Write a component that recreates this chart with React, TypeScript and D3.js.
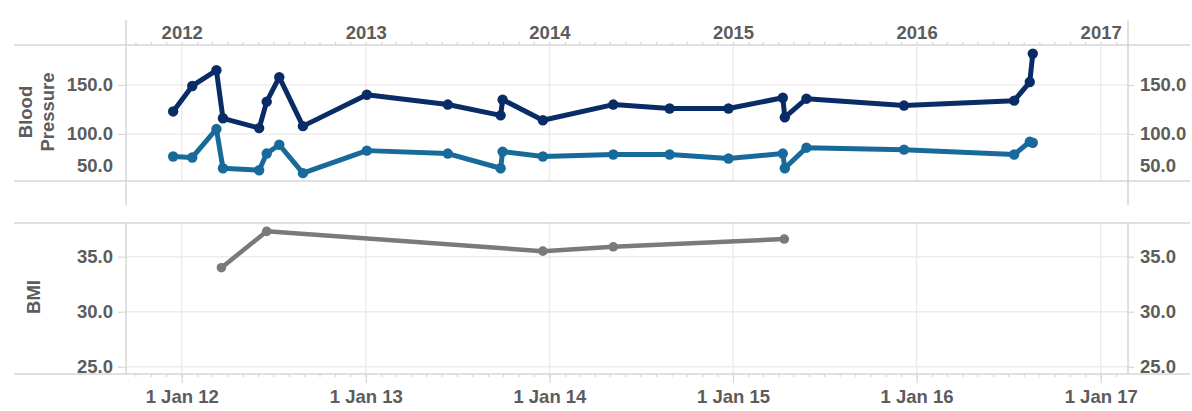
import React, { useEffect, useRef } from "react";
import * as d3 from "d3";

// visit dates shared by both blood pressure series
const visitDates = [
  "2011-12-15", "2012-01-22", "2012-03-10", "2012-03-23", "2012-06-03", "2012-06-18",
  "2012-07-13", "2012-08-29", "2013-01-03", "2013-06-13", "2013-09-26", "2013-09-30",
  "2013-12-19", "2014-05-08", "2014-08-28", "2014-12-23", "2015-04-10", "2015-04-14",
  "2015-05-27", "2015-12-07", "2016-07-13", "2016-08-13", "2016-08-19"
];
const systolic = [123, 149, 165, 116, 106, 133, 158, 108, 140, 130, 119, 135, 114, 130, 126, 126, 137, 117, 136, 129, 134, 153, 182];
const diastolic = [77, 76, 105, 65, 63, 80, 89, 60, 83, 80, 65, 82, 77, 79, 79, 75, 80, 65, 86, 84, 79, 92, 91];

const bmiDates = ["2012-03-20", "2012-06-18", "2013-12-19", "2014-05-08", "2015-04-13"];
const bmiValues = [34.0, 37.3, 35.5, 35.9, 36.6];

const bpTicks = [100, 150];
const bpEdgeTick = 50;
const bmiTicks = [25, 30, 35];

const W = 1192;
const H = 411;

export default function App() {
  const ref = useRef<SVGSVGElement | null>(null);

  useEffect(() => {
    const svg = d3.select(ref.current);
    svg.selectAll("*").remove();

    const parse = d3.utcParse("%Y-%m-%d");
    const left = 126;
    const right = 1128;
    const bp = { top: 45, bottom: 181 };
    const bm = { top: 223, bottom: 374 };

    // year lines sit at 181.7 (2012) and 1100.7 (2017)
    const anchor = d3.scaleUtc()
      .domain([new Date(Date.UTC(2012, 0, 1)), new Date(Date.UTC(2017, 0, 1))])
      .range([181.7, 1100.7]);
    const x = d3.scaleUtc().domain([anchor.invert(left), anchor.invert(right)]).range([left, right]);

    const yBP = d3.scaleLinear().domain([52, 190.8]).range([bp.bottom, bp.top]);
    const yBMI = d3.scaleLinear().domain([24.34, 38.06]).range([bm.bottom, bm.top]);

    const font = "'Liberation Sans', Arial, sans-serif";
    const textColor = "#5c5c5c";
    const gridColor = "#f0eaec";
    const ruleColor = "#d6d6d6";

    const years = d3.utcYear.range(new Date(Date.UTC(2012, 0, 1)), new Date(Date.UTC(2017, 0, 2)));
    const months = d3.utcMonth.range(x.domain()[0], x.domain()[1]);

    // gridlines
    const grid = svg.append("g");
    [bp, bm].forEach(p => {
      grid.selectAll(null)
        .data(years)
        .enter()
        .append("line")
        .attr("x1", d => x(d)).attr("x2", d => x(d))
        .attr("y1", p.top).attr("y2", p.bottom)
        .attr("stroke", gridColor).attr("stroke-width", 1.5);
    });
    grid.selectAll(null)
      .data(bpTicks)
      .enter()
      .append("line")
      .attr("x1", left).attr("x2", right)
      .attr("y1", d => yBP(d)).attr("y2", d => yBP(d))
      .attr("stroke", gridColor).attr("stroke-width", 1.5);
    grid.selectAll(null)
      .data(bmiTicks)
      .enter()
      .append("line")
      .attr("x1", left).attr("x2", right)
      .attr("y1", d => yBMI(d)).attr("y2", d => yBMI(d))
      .attr("stroke", gridColor).attr("stroke-width", 1.5);

    // panel rules
    const rules = svg.append("g").attr("stroke", ruleColor).attr("stroke-width", 1.5);
    [bp.top, bp.bottom, bm.top, bm.bottom].forEach(y => {
      rules.append("line").attr("x1", 14).attr("x2", 1190).attr("y1", y).attr("y2", y);
    });
    [left, right].forEach(xx => {
      rules.append("line").attr("x1", xx).attr("x2", xx).attr("y1", 20).attr("y2", 205);
      rules.append("line").attr("x1", xx).attr("x2", xx).attr("y1", bm.top).attr("y2", bm.bottom);
    });

    const styleAxis = (g: any) => {
      g.select(".domain").remove();
      g.selectAll(".tick line").attr("stroke", ruleColor).attr("stroke-width", 1.2);
      g.selectAll("text")
        .attr("fill", textColor)
        .style("font-family", font)
        .style("font-size", "18.5px")
        .style("font-weight", "bold");
    };

    // top axis: month ticks and year labels
    svg.append("g")
      .attr("transform", `translate(0, ${bp.top})`)
      .call(d3.axisTop(x).tickValues(months).tickSize(3).tickFormat(() => ""))
      .call(styleAxis);
    svg.append("g")
      .attr("transform", `translate(0, ${bp.top - 6})`)
      .call(d3.axisTop(x).tickValues(years).tickSize(0).tickPadding(0).tickFormat(d3.utcFormat("%Y") as any))
      .call(styleAxis);

    // bottom axis
    svg.append("g")
      .attr("transform", `translate(0, ${bm.bottom})`)
      .call(d3.axisBottom(x).tickValues(months).tickSize(3).tickFormat(() => ""))
      .call(styleAxis);
    svg.append("g")
      .attr("transform", `translate(0, ${bm.bottom})`)
      .call(d3.axisBottom(x).tickValues(years).tickSize(9).tickPadding(7).tickFormat(d3.utcFormat("%-d %b %y") as any))
      .call(styleAxis);

    // value axes, both sides
    const fmt = d3.format(".1f");
    svg.append("g").attr("transform", `translate(${left}, 0)`)
      .call(d3.axisLeft(yBP).tickValues(bpTicks).tickSize(8).tickPadding(5).tickFormat(fmt as any))
      .call(styleAxis);
    svg.append("g").attr("transform", `translate(${right}, 0)`)
      .call(d3.axisRight(yBP).tickValues(bpTicks).tickSize(6).tickPadding(6).tickFormat(fmt as any))
      .call(styleAxis);
    svg.append("g").attr("transform", `translate(${left}, 0)`)
      .call(d3.axisLeft(yBMI).tickValues(bmiTicks).tickSize(8).tickPadding(5).tickFormat(fmt as any))
      .call(styleAxis);
    svg.append("g").attr("transform", `translate(${right}, 0)`)
      .call(d3.axisRight(yBMI).tickValues(bmiTicks).tickSize(6).tickPadding(6).tickFormat(fmt as any))
      .call(styleAxis);

    // 50.0 falls just below the panel, so its label is pushed inside
    const edgeY = Math.min(yBP(bpEdgeTick), bp.bottom) - 15;
    [[left - 13, "end"], [right + 12, "start"]].forEach(([xx, anchorSide]) => {
      svg.append("text")
        .attr("x", xx as number)
        .attr("y", edgeY)
        .attr("dy", "0.32em")
        .attr("text-anchor", anchorSide as string)
        .attr("fill", textColor)
        .style("font-family", font)
        .style("font-size", "18.5px")
        .style("font-weight", "bold")
        .text(fmt(bpEdgeTick));
    });

    // axis titles
    const title = (cx: number, cy: number, lines: string[]) => {
      const t = svg.append("text")
        .attr("transform", `translate(${cx}, ${cy}) rotate(-90)`)
        .attr("text-anchor", "middle")
        .attr("fill", textColor)
        .style("font-family", font)
        .style("font-size", "18.5px")
        .style("font-weight", "bold");
      lines.forEach((l, i) => {
        t.append("tspan")
          .attr("x", 0)
          .attr("y", (i - (lines.length - 1) / 2) * 22)
          .attr("dy", "0.35em")
          .text(l);
      });
    };
    title(37, 112, ["Blood", "Pressure"]);
    title(34, 297, ["BMI"]);

    // series
    const bpData = (vals: number[]) => visitDates.map((d, i) => ({ date: parse(d) as Date, v: vals[i] }));
    const series = [
      { data: bpData(diastolic), color: "#186a9b" },
      { data: bpData(systolic), color: "#0a2c66" }
    ];
    series.forEach(s => {
      const line = d3.line<{ date: Date; v: number }>().x(d => x(d.date)).y(d => yBP(d.v));
      svg.append("path")
        .datum(s.data)
        .attr("d", line)
        .attr("fill", "none")
        .attr("stroke", s.color)
        .attr("stroke-width", 5)
        .attr("stroke-linejoin", "round")
        .attr("stroke-linecap", "round");
      svg.append("g")
        .selectAll("circle")
        .data(s.data)
        .enter()
        .append("circle")
        .attr("cx", d => x(d.date))
        .attr("cy", d => yBP(d.v))
        .attr("r", 5.2)
        .attr("fill", s.color);
    });

    const bmiData = bmiDates.map((d, i) => ({ date: parse(d) as Date, v: bmiValues[i] }));
    svg.append("path")
      .datum(bmiData)
      .attr("d", d3.line<{ date: Date; v: number }>().x(d => x(d.date)).y(d => yBMI(d.v)))
      .attr("fill", "none")
      .attr("stroke", "#7a7a7a")
      .attr("stroke-width", 4.5)
      .attr("stroke-linejoin", "round");
    svg.append("g")
      .selectAll("circle")
      .data(bmiData)
      .enter()
      .append("circle")
      .attr("cx", d => x(d.date))
      .attr("cy", d => yBMI(d.v))
      .attr("r", 4.8)
      .attr("fill", "#7a7a7a");
  }, []);

  return (
    <svg
      ref={ref}
      width={W}
      height={H}
      style={{ position: "absolute", left: 0, top: 0, background: "#fff" }}
    />
  );
}
